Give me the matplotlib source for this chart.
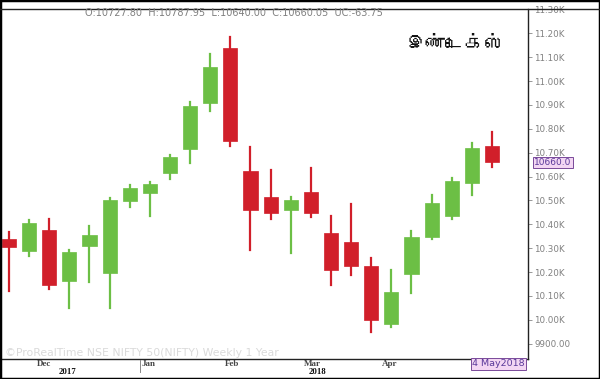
import matplotlib
matplotlib.use("Agg")
import matplotlib.pyplot as plt
import matplotlib.font_manager as fm
from matplotlib.ft2font import FT2Font
from matplotlib.patches import Rectangle
from matplotlib.lines import Line2D

# ---- data (weekly candles, NIFTY) ----
opens  = [10338, 10287, 10375, 10162, 10308, 10195, 10497, 10530, 10614, 10714,
          10907, 11137, 10622, 10513, 10459, 10534, 10363, 10325, 10225, 9982,
          10191, 10346, 10434, 10572, 10727.80]
highs  = [10367, 10417, 10421, 10292, 10392, 10509, 10564, 10576, 10689, 10911,
          11112, 11183, 10723, 10626, 10513, 10635, 10434, 10484, 10258, 10208,
          10371, 10522, 10593, 10739, 10787.95]
lows   = [10120, 10267, 10128, 10049, 10158, 10049, 10472, 10434, 10589, 10656,
          10873, 10727, 10292, 10421, 10279, 10430, 10145, 10187, 9949, 9970,
          10112, 10338, 10421, 10522, 10640.00]
closes = [10304, 10405, 10145, 10283, 10354, 10501, 10551, 10568, 10681, 10894,
          11057, 10748, 10459, 10446, 10501, 10446, 10208, 10225, 9999, 10116,
          10346, 10488, 10580, 10718, 10660.05]

month_labels = ["Dec", "Jan", "Feb", "Mar", "Apr"]
month_pos = [1.75, 6.95, 11.1, 15.1, 18.9]
year_labels = ["2017", "2018"]
year_pos = [2.9, 15.35]
ytick_vals = [9900, 10000, 10100, 10200, 10300, 10400, 10500, 10600, 10700,
              10800, 10900, 11000, 11100, 11200, 11300]
ytick_labels = ["9900.00", "10.00K", "10.10K", "10.20K", "10.30K", "10.40K",
                "10.50K", "10.60K", "10.70K", "10.80K", "10.90K", "11.00K",
                "11.10K", "11.20K", "11.30K"]
header = "O:10727.80  H:10787.95  L:10640.00  C:10660.05  UC:-63.75"
last_label = "10660.0"
date_label = "4 May2018"
title = "இண்டெக்ஸ்"
watermark = "©ProRealTime NSE NIFTY 50(NIFTY) Weekly 1 Year"

# ---- font with Tamil glyphs, if any ----
tamil_family = None
for f in fm.fontManager.ttflist:
    try:
        if 0x0B87 in FT2Font(f.fname).get_charmap():
            tamil_family = f.name
            break
    except Exception:
        pass
title_fams = ([tamil_family] if tamil_family else []) + ["Noto Sans", "DejaVu Sans"]

plt.rcParams['font.family'] = ['DejaVu Sans']

W, H = 600, 379
YMIN, YMAX = 9835.6, 11302
fig = plt.figure(figsize=(6.0, 3.79), dpi=100)
ax = fig.add_axes([0 / W, (H - 359) / H, 528 / W, 350 / H])

up_c = "#6CBF45"
dn_c = "#D11F2A"
bw = 0.7
for i, (o, h, l, c) in enumerate(zip(opens, highs, lows, closes)):
    col = up_c if c >= o else dn_c
    ax.add_line(Line2D([i, i], [l, h], color=col, lw=1.6, zorder=2))
    ax.add_patch(Rectangle((i - bw / 2, min(o, c)), bw, abs(c - o),
                           facecolor=col, edgecolor=col, lw=0.5, zorder=3))

ax.set_xlim(-0.447, 25.79)
ax.set_ylim(YMIN, YMAX)
for s in ["left", "top"]:
    ax.spines[s].set_visible(False)
for s in ["right", "bottom"]:
    ax.spines[s].set_color("#222222")
    ax.spines[s].set_linewidth(1.0)

ax.yaxis.tick_right()
ax.set_yticks(ytick_vals)
ax.set_yticklabels(ytick_labels)
ax.tick_params(axis="y", direction="out", length=3, width=0.6, color="#888888",
               labelsize=6.3, labelcolor="#808080", pad=1.5)
ax.set_xticks([])

# month / year labels below axis
for lab, p in zip(month_labels, month_pos):
    xd = ax.transData.transform((p, YMIN))[0]
    fig.text(xd / W, 1 - 364 / H, lab, ha="center", va="center", fontsize=6.5,
             color="#444444", fontweight="bold", family="Liberation Serif")
for lab, p in zip(year_labels, year_pos):
    xd = ax.transData.transform((p, YMIN))[0]
    fig.text(xd / W, 1 - 371.5 / H, lab, ha="center", va="center", fontsize=6.3,
             color="#111111", fontweight="bold", family="Liberation Serif")
# year separator tick
xs = ax.transData.transform((6.5, YMIN))[0] / W
fig.add_artist(Line2D([xs, xs], [1 - 360 / H, 1 - 372 / H], transform=fig.transFigure,
                      color="#888888", lw=0.7))

# last price box
ax.text(1.012, (closes[-1] - YMIN) / (YMAX - YMIN), last_label,
        transform=ax.transAxes, ha="left", va="center", fontsize=6.5,
        color="#5a3a9a",
        bbox=dict(boxstyle="square,pad=0.12", facecolor="#F3D6F3",
                  edgecolor="#7a4a9a", lw=0.7))
# date box
fig.text(525 / W, 1 - 364 / H, date_label, ha="right", va="center", fontsize=6.8,
         color="#5a3a9a",
         bbox=dict(boxstyle="square,pad=0.15", facecolor="#F3D6F3",
                   edgecolor="#7a4a9a", lw=0.7))

# header line & text
fig.add_artist(Line2D([0, 1], [1 - 9 / H, 1 - 9 / H], transform=fig.transFigure,
                      color="#222222", lw=1.0))
fig.text(85 / W, 1 - 13 / H, header, ha="left", va="center", fontsize=7,
         color="#808080")

# watermark
fig.text(5 / W, 1 - 353 / H, watermark, ha="left", va="center", fontsize=7.8,
         color="#dadada")

# title
fig.text(455 / W, 1 - 44 / H, title, ha="center", va="center", fontsize=14,
         fontweight="bold", color="#111111", family=title_fams)

# figure border
fig.add_artist(Rectangle((0, 0), 1, 1, transform=fig.transFigure, fill=False,
                         edgecolor="black", lw=2.5))

fig.savefig("out.png", dpi=100)
